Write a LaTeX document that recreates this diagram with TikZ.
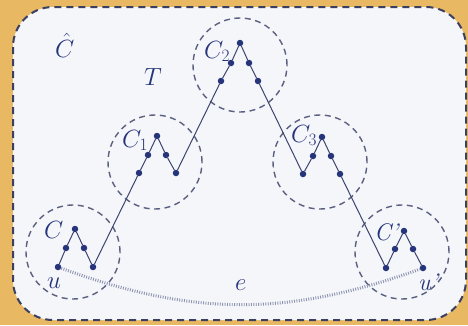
\documentclass[tikz,border=0pt]{standalone}
\definecolor{bgor}{HTML}{E8B862}
\definecolor{paper}{HTML}{F5F6FA}
\definecolor{navy}{HTML}{26347A}
\definecolor{framec}{HTML}{3B4060}
\definecolor{ringc}{HTML}{5A6080}
\definecolor{edgec}{HTML}{3C4570}
\definecolor{dotc}{HTML}{8C94B0}
\begin{document}
\begin{tikzpicture}[x=1pt,y=-1pt,
  pt/.style={circle,fill=navy,inner sep=0pt,minimum size=6.5pt},
  grp/.style={circle,draw=ringc,line width=1.4pt,dash pattern=on 6pt off 4.5pt,inner sep=0pt,minimum size=94pt},
  lbl/.style={text=navy,inner sep=0pt,anchor=base west,font=\fontsize{24}{28}\selectfont},
  ln/.style={draw=edgec,line width=1pt},
  farc/.style={draw=dotc,line width=3pt,dash pattern=on 0.9pt off 1.5pt}]
\useasboundingbox (0,0) rectangle (468,325);
\fill[bgor] (0,0) rectangle (468,325);
\draw[framec,line width=2pt,dash pattern=on 7pt off 5pt,fill=paper,rounded corners=40pt] (13,7) rectangle (466,320);

% group circles
\node[grp] (gC) at (73,252) {};
\node[grp] (gC1) at (155,162) {};
\node[grp] (gC2) at (240,65) {};
\node[grp] (gC3) at (320,162) {};
\node[grp] (gCp) at (402,252) {};

% dots
\node[pt] (a1) at (58,267) {};
\node[pt] (a2) at (66,248) {};
\node[pt] (a3) at (75,229) {};
\node[pt] (a4) at (84,248) {};
\node[pt] (a5) at (93,267) {};
\node[pt] (b1) at (139,173) {};
\node[pt] (b2) at (148,155) {};
\node[pt] (b3) at (157,136) {};
\node[pt] (b4) at (166,155) {};
\node[pt] (b5) at (176,173) {};
\node[pt] (c1) at (221,81) {};
\node[pt] (c2) at (231,63) {};
\node[pt] (c3) at (240,43) {};
\node[pt] (c4) at (249,63) {};
\node[pt] (c5) at (258,81) {};
\node[pt] (d1) at (303,174) {};
\node[pt] (d2) at (313,156) {};
\node[pt] (d3) at (322,137) {};
\node[pt] (d4) at (331,156) {};
\node[pt] (d5) at (340,174) {};
\node[pt] (f1) at (386,268) {};
\node[pt] (f2) at (395,249) {};
\node[pt] (f3) at (404,231) {};
\node[pt] (f4) at (413,249) {};
\node[pt] (f5) at (423,268) {};

% dotted edge e
\draw[farc] (a1) to[bend right=20] (f5);

% path T
\draw[ln] (a1) -- (a2) -- (a3) -- (a4) -- (a5) -- (b1) -- (b2) -- (b3) -- (b4) -- (b5)
  -- (c1) -- (c2) -- (c3) -- (c4) -- (c5) -- (d1) -- (d2) -- (d3) -- (d4) -- (d5)
  -- (f1) -- (f2) -- (f3) -- (f4) -- (f5);

% labels
\node[lbl] (lChat) at (55,57) {$\hat{C}$};
\node[lbl] (lT) at (144,85) {$T$};
\node[lbl] (lC) at (44,238) {$C$};
\node[lbl] (lu) at (47,288) {$u$};
\node[lbl] (lC1) at (122,147) {$C_1$};
\node[lbl] (lC2) at (204,58) {$C_2$};
\node[lbl] (lC3) at (291,142) {$C_3$};
\node[lbl] (lCp) at (374,240) {\textit{C’}};
\node[lbl] (lup) at (418,290) {\textit{u’}};
\node[lbl] (le) at (235,290) {$e$};
\end{tikzpicture}
\end{document}
